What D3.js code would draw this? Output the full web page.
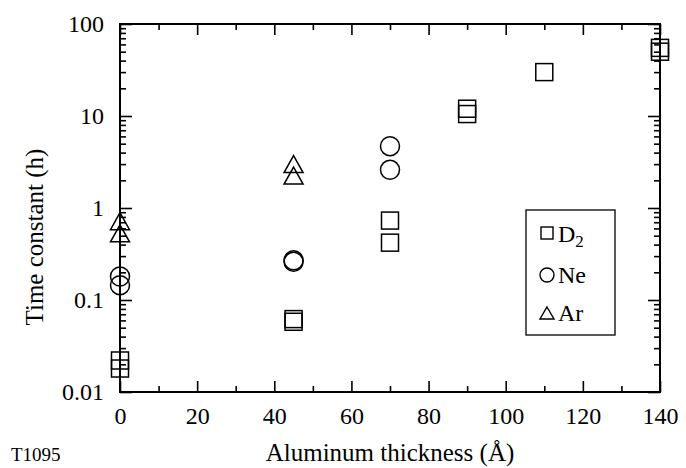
<!DOCTYPE html>
<html><head><meta charset="utf-8">
<script src="https://cdn.jsdelivr.net/npm/d3@7"></script>
<style>
html,body{margin:0;padding:0;background:#fff;}
svg text{font-family:"Liberation Serif","Times New Roman",Times,"DejaVu Serif",serif !important;fill:#000;}
</style></head>
<body><svg id="c" width="686" height="468"></svg>
<script>
// Data
const d2X = [0, 0, 45, 45, 70, 70, 90, 90, 110, 140, 140];
const d2Y = [0.022, 0.018, 0.062, 0.058, 0.73, 0.42, 12, 10.5, 30, 55, 50];
const neX = [0, 0, 45, 45, 70, 70];
const neY = [0.18, 0.145, 0.27, 0.26, 4.7, 2.6];
const arX = [0, 0, 45, 45];
const arY = [0.72, 0.53, 3.0, 2.25];
const xTicks = [0, 20, 40, 60, 80, 100, 120, 140];
const xMinor = [10, 30, 50, 70, 90, 110, 130];
const yTicks = [0.01, 0.1, 1, 10, 100];
const yTickLabels = ["0.01", "0.1", "1", "10", "100"];
const legendNames = ["D", "Ne", "Ar"];

const FONT = '"Liberation Serif","Times New Roman",Times,"DejaVu Serif",serif';
const svg = d3.select("#c");
const L = 120, R = 660, T = 24, B = 392;
const x = d3.scaleLinear().domain([0, 140]).range([L, R]);
const y = d3.scaleLog().domain([0.01, 100]).range([B, T]);
const yMinor = y.ticks().filter(v => !yTicks.some(t => Math.abs(t - v) / t < 1e-6));

function styleAxis(g) {
  g.attr("font-family", null).attr("font-size", null);
  g.select(".domain").remove();
  g.selectAll(".tick line").attr("stroke", "#000").attr("stroke-width", 1.6);
  g.selectAll("text").attr("font-family", FONT).attr("font-size", 24).attr("fill", "#000");
}
// bottom
svg.append("g").attr("transform", `translate(0,${B})`)
  .call(d3.axisBottom(x).tickValues(xTicks).tickSize(-11).tickPadding(15).tickFormat(d3.format("d"))).call(styleAxis);
svg.append("g").attr("transform", `translate(0,${B})`)
  .call(d3.axisBottom(x).tickValues(xMinor).tickSize(-6).tickFormat("")).call(styleAxis);
// top
svg.append("g").attr("transform", `translate(0,${T})`)
  .call(d3.axisTop(x).tickValues(xTicks).tickSize(-11).tickFormat("")).call(styleAxis);
svg.append("g").attr("transform", `translate(0,${T})`)
  .call(d3.axisTop(x).tickValues(xMinor).tickSize(-6).tickFormat("")).call(styleAxis);
// left
svg.append("g").attr("transform", `translate(${L},0)`)
  .call(d3.axisLeft(y).tickValues(yTicks).tickSize(-12).tickPadding(16).tickFormat((d, i) => yTickLabels[i])).call(styleAxis);
svg.append("g").attr("transform", `translate(${L},0)`)
  .call(d3.axisLeft(y).tickValues(yMinor).tickSize(-6).tickFormat("")).call(styleAxis);
// right
svg.append("g").attr("transform", `translate(${R},0)`)
  .call(d3.axisRight(y).tickValues(yTicks).tickSize(-12).tickFormat("")).call(styleAxis);
svg.append("g").attr("transform", `translate(${R},0)`)
  .call(d3.axisRight(y).tickValues(yMinor).tickSize(-6).tickFormat("")).call(styleAxis);

// frame
svg.append("rect").attr("x", L).attr("y", T).attr("width", R - L).attr("height", B - T)
  .attr("fill", "none").attr("stroke", "#000").attr("stroke-width", 2);

// markers
const ms = 17;
svg.append("g").selectAll("rect").data(d2X.map((v, i) => [v, d2Y[i]])).join("rect")
  .attr("x", d => x(d[0]) - ms / 2).attr("y", d => y(d[1]) - ms / 2)
  .attr("width", ms).attr("height", ms)
  .attr("fill", "none").attr("stroke", "#000").attr("stroke-width", 1.5);
svg.append("g").selectAll("circle").data(neX.map((v, i) => [v, neY[i]])).join("circle")
  .attr("cx", d => x(d[0])).attr("cy", d => y(d[1])).attr("r", 9.5)
  .attr("fill", "none").attr("stroke", "#000").attr("stroke-width", 1.5);
const triW = 19, triH = 17;
svg.append("g").selectAll("path").data(arX.map((v, i) => [v, arY[i]])).join("path")
  .attr("d", d => {
    const cx = x(d[0]), cy = y(d[1]);
    return `M${cx},${cy - triH / 2}L${cx + triW / 2},${cy + triH / 2}L${cx - triW / 2},${cy + triH / 2}Z`;
  })
  .attr("fill", "none").attr("stroke", "#000").attr("stroke-width", 1.5);

// legend
const lg = svg.append("g");
lg.append("rect").attr("x", 526).attr("y", 210).attr("width", 89).attr("height", 125)
  .attr("fill", "#fff").attr("stroke", "#000").attr("stroke-width", 1.3);
const lsym = 12, lx = 547;
const ly = [233, 275, 313];
lg.append("rect").attr("x", lx - lsym / 2).attr("y", ly[0] - lsym / 2).attr("width", lsym).attr("height", lsym)
  .attr("fill", "none").attr("stroke", "#000").attr("stroke-width", 1.4);
lg.append("circle").attr("cx", lx).attr("cy", ly[1]).attr("r", 7)
  .attr("fill", "none").attr("stroke", "#000").attr("stroke-width", 1.4);
lg.append("path").attr("d", `M${lx},${ly[2] - 6}L${lx + 7},${ly[2] + 6}L${lx - 7},${ly[2] + 6}Z`)
  .attr("fill", "none").attr("stroke", "#000").attr("stroke-width", 1.4);
const lbase = [242, 283, 321];
const t0 = lg.append("text").attr("x", 558).attr("y", lbase[0]).attr("font-family", FONT).attr("font-size", 24);
t0.append("tspan").text(legendNames[0]);
t0.append("tspan").attr("dy", 5).attr("font-size", 17).text("2");
lg.append("text").attr("x", 558).attr("y", lbase[1]).attr("font-family", FONT).attr("font-size", 24).text(legendNames[1]);
lg.append("text").attr("x", 558).attr("y", lbase[2]).attr("font-family", FONT).attr("font-size", 24).text(legendNames[2]);

// axis titles
svg.append("text").attr("x", 390).attr("y", 461).attr("text-anchor", "middle").attr("font-family", FONT).attr("font-size", 25)
  .text("Aluminum thickness (Å)");
svg.append("text").attr("transform", "translate(43,237) rotate(-90)").attr("text-anchor", "middle").attr("font-family", FONT).attr("font-size", 25)
  .text("Time constant (h)");
svg.append("text").attr("x", 11).attr("y", 461).attr("font-family", FONT).attr("font-size", 19).text("T1095");
</script></body></html>
